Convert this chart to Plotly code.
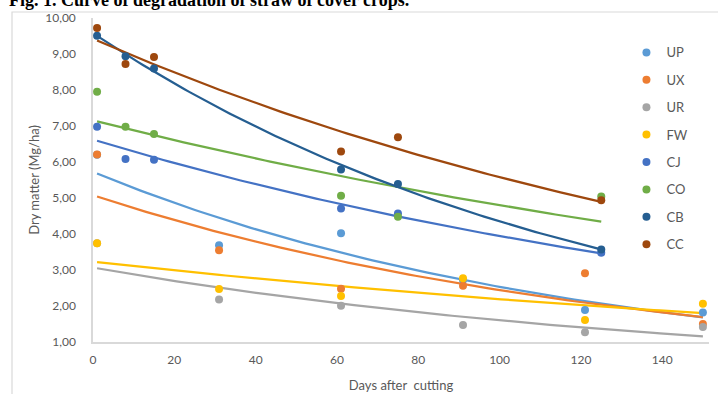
import numpy as np
import plotly.graph_objects as go

# ---- data ----
series_names = ["UP", "UX", "UR", "FW", "CJ", "CO", "CB", "CC"]
series_colors = ["#5B9BD5", "#ED7D31", "#A5A5A5", "#FFC000",
                 "#4472C4", "#70AD47", "#255E91", "#9E480E"]

days_u = [1, 31, 61, 91, 121, 150]
days_c = [1, 8, 15, 61, 75, 125]

UP = [6.20, 3.69, 4.02, 2.72, 1.89, 1.82]
UX = [6.21, 3.55, 2.48, 2.56, 2.91, 1.50]
UR = [3.74, 2.18, 2.01, 1.47, 1.27, 1.42]
FW = [3.74, 2.47, 2.28, 2.77, 1.61, 2.06]
CJ = [6.98, 6.08, 6.06, 4.71, 4.57, 3.48]
CO = [7.95, 6.98, 6.78, 5.06, 4.48, 5.04]
CB = [9.51, 8.94, 8.60, 5.79, 5.39, 3.57]
CC = [9.72, 8.72, 8.92, 6.29, 6.69, 4.94]

series_x = [days_u, days_u, days_u, days_u, days_c, days_c, days_c, days_c]
series_y = [UP, UX, UR, FW, CJ, CO, CB, CC]

title_text = "Fig. 1. Curve of degradation of straw of cover crops."
x_title = "Days after\u00a0 cutting"
y_title = "Dry matter (Mg/ha)"

FONT = "Lato, 'Open Sans', sans-serif"
GREY = "#595959"

fig = go.Figure()

# exponential trendlines (least-squares fit on log values, as Excel does)
for name, col, xs, ys in zip(series_names, series_colors, series_x, series_y):
    xs_a = np.array(xs, float)
    b, ln_a = np.polyfit(xs_a, np.log(np.array(ys, float)), 1)
    xt = np.linspace(xs_a.min(), xs_a.max(), 100)
    fig.add_trace(go.Scatter(x=xt, y=np.exp(ln_a + b * xt), mode="lines",
                             line=dict(color=col, width=2.25),
                             legendgroup=name, showlegend=False,
                             hoverinfo="skip"))

for name, col, xs, ys in zip(series_names, series_colors, series_x, series_y):
    fig.add_trace(go.Scatter(x=xs, y=ys, mode="markers", name=name,
                             legendgroup=name, cliponaxis=False,
                             marker=dict(color=col, size=8)))

fig.update_layout(
    width=718, height=394,
    margin=dict(l=93, r=9, t=18, b=52, autoexpand=False),
    paper_bgcolor="white", plot_bgcolor="white",
    separators=",.",
    font=dict(family=FONT, size=12, color=GREY),
    legend=dict(x=0.866, y=0.94, xanchor="left", yanchor="top",
                bgcolor="rgba(0,0,0,0)", tracegroupgap=7.5,
                font=dict(size=13, color=GREY), itemwidth=30),
    xaxis=dict(range=[0, 151.5], tick0=0, dtick=20, showgrid=False,
               zeroline=False, showline=True, linecolor="#D9D9D9",
               linewidth=1.5, ticks="", ticklabelstandoff=6,
               title=dict(text=x_title, standoff=15,
                          font=dict(size=13, color=GREY))),
    yaxis=dict(range=[1, 10], tick0=1, dtick=1, tickformat=".2f",
               showgrid=False, zeroline=False, showline=True,
               linecolor="#D9D9D9", linewidth=1.5, ticks="",
               ticklabelstandoff=13,
               title=dict(text=y_title, standoff=3,
                          font=dict(size=13, color=GREY))),
    shapes=[dict(type="rect", xref="paper", yref="paper",
                 x0=-0.1315, x1=1.2, y0=-0.3, y1=1.0185,
                 line=dict(color="#D9D9D9", width=1.2), layer="below")],
    annotations=[dict(text="<b>" + title_text + "</b>", xref="paper",
                      yref="paper", x=-0.1396, y=1.0,
                      xanchor="left", yanchor="bottom", yshift=6,
                      showarrow=False,
                      font=dict(family="'Liberation Serif', serif",
                                size=18, color="black"))],
)

fig.write_html(
    "out.html",
    config={"displayModeBar": False},
    post_script=("document.body.style.margin='0';"
                 "document.body.style.overflow='hidden';"
                 "document.documentElement.style.overflow='hidden';"),
)
